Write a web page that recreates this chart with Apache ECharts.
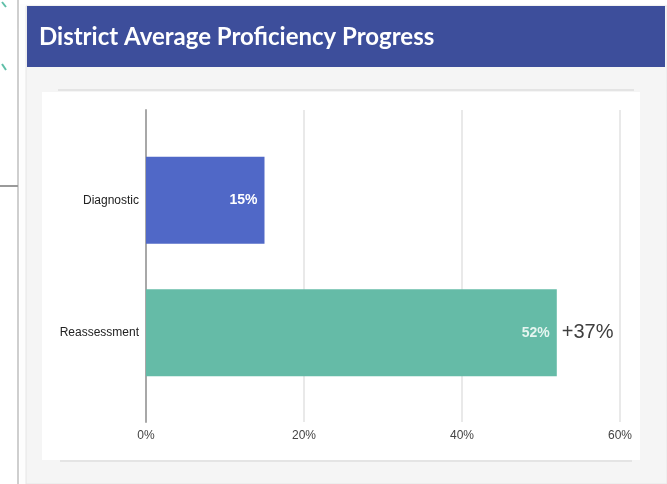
<!DOCTYPE html>
<html>
<head>
<meta charset="utf-8">
<script src="https://cdn.jsdelivr.net/npm/echarts@6/dist/echarts.min.js"></script>
<style>
  html, body { margin: 0; padding: 0; background: #ffffff; }
  #chart { width: 667px; height: 484px; }
</style>
</head>
<body>
<div id="chart"></div>
<script>
// Assessment stages and the district-wide share of proficient students (%)
const categories = ['Diagnostic', 'Reassessment'];
const proficiency = [15, 52];

// Percentage axis
const axisMin = 0;
const axisMax = 60;
const axisStep = 20;

const gain = proficiency[proficiency.length - 1] - proficiency[0];
const gainText = '+' + gain + '%';

const chart = echarts.init(document.getElementById('chart'), null, { renderer: 'canvas' });

const FONT = '"Liberation Sans", Arial, sans-serif';

const option = {
  animation: false,
  backgroundColor: '#ffffff',
  graphic: {
    elements: [
      // page behind the card
      { type: 'rect', z: -20, shape: { x: 17, y: 0, width: 2, height: 484 }, style: { fill: '#cfcfcf' } },
      { type: 'rect', z: -20, shape: { x: 0, y: 185, width: 18, height: 2 }, style: { fill: '#9a9a9a' } },
      { type: 'line', z: -20, shape: { x1: 2, y1: 2, x2: 6, y2: 7 }, style: { stroke: '#5fbfa8', lineWidth: 2 } },
      { type: 'line', z: -20, shape: { x1: 2, y1: 64, x2: 6, y2: 70 }, style: { stroke: '#5fbfa8', lineWidth: 2 } },
      // card body
      { type: 'rect', z: -15, shape: { x: 20, y: 4, width: 647, height: 480 }, style: { fill: '#fdfdfd' } },
      { type: 'rect', z: -14, shape: { x: 26, y: 6, width: 641, height: 478 }, style: { fill: '#f5f5f5', stroke: '#e6e6e6', lineWidth: 1 } },
      // header bar
      { type: 'rect', z: -13, shape: { x: 27, y: 6, width: 638, height: 61 }, style: { fill: '#3d4e9b' } },
      {
        type: 'text', z: -12, x: 39, y: 37,
        style: {
          text: 'District Average Proficiency Progress',
          fill: '#ffffff',
          font: 'bold 24px Lato, "Open Sans", sans-serif',
          textVerticalAlign: 'middle'
        }
      },
      // chart panel
      { type: 'rect', z: -11, shape: { x: 42, y: 92, width: 598, height: 368 }, style: { fill: '#ffffff' } },
      { type: 'rect', z: -11, shape: { x: 58, y: 89, width: 576, height: 2 }, style: { fill: '#e4e4e4' } },
      { type: 'rect', z: -11, shape: { x: 60, y: 460, width: 572, height: 2 }, style: { fill: '#e4e4e4' } }
    ]
  },
  grid: [
    // frame: gridlines, baseline and percentage ticks
    { left: 146, width: 474, top: 110, height: 312, containLabel: false },
    // bars
    { left: 146, width: 474, top: 134, height: 265, containLabel: false }
  ],
  xAxis: [
    {
      gridIndex: 0, type: 'value', min: axisMin, max: axisMax, interval: axisStep, z: 5,
      axisLine: { show: false }, axisTick: { show: false },
      splitLine: { show: true, lineStyle: { color: '#e2e2e2', width: 1.5 } },
      axisLabel: {
        formatter: '{value}%', color: '#444444', fontSize: 12, fontFamily: FONT, margin: 8
      }
    },
    {
      gridIndex: 1, type: 'value', min: axisMin, max: axisMax, interval: axisStep, show: false
    }
  ],
  yAxis: [
    {
      gridIndex: 0, type: 'category', data: [''], z: 6,
      axisLine: { show: true, lineStyle: { color: '#a8a8a8', width: 2 } },
      axisTick: { show: false }, axisLabel: { show: false }, splitLine: { show: false }
    },
    {
      gridIndex: 1, type: 'category', data: categories, inverse: true, z: 6,
      axisLine: { show: false }, axisTick: { show: false },
      axisLabel: { color: '#222222', fontSize: 12, fontFamily: FONT, margin: 7 }
    }
  ],
  series: [
    {
      type: 'bar', xAxisIndex: 1, yAxisIndex: 1, z: 8,
      barWidth: '65.6%',
      data: [
        {
          value: proficiency[0],
          itemStyle: { color: '#5068c7' },
          label: { color: '#ffffff' }
        },
        {
          value: proficiency[1],
          itemStyle: { color: '#65bba7' },
          label: { color: '#e6f5f0' }
        }
      ],
      label: {
        show: true, position: 'insideRight', distance: 7,
        formatter: '{c}%', fontSize: 14, fontWeight: 'bold', fontFamily: FONT
      }
    },
    {
      // improvement from the first to the last stage, shown beside the last bar
      type: 'bar', xAxisIndex: 1, yAxisIndex: 1, z: 9,
      barWidth: '65.6%', barGap: '-100%',
      itemStyle: { color: 'rgba(0,0,0,0)' },
      data: categories.map((c, i) => (i === categories.length - 1 ? proficiency[i] : null)),
      label: {
        show: true, position: 'right', distance: 5,
        formatter: gainText, fontSize: 20, color: '#3f3f3f', fontFamily: FONT
      },
      silent: true
    }
  ]
};

chart.setOption(option);
</script>
</body>
</html>
